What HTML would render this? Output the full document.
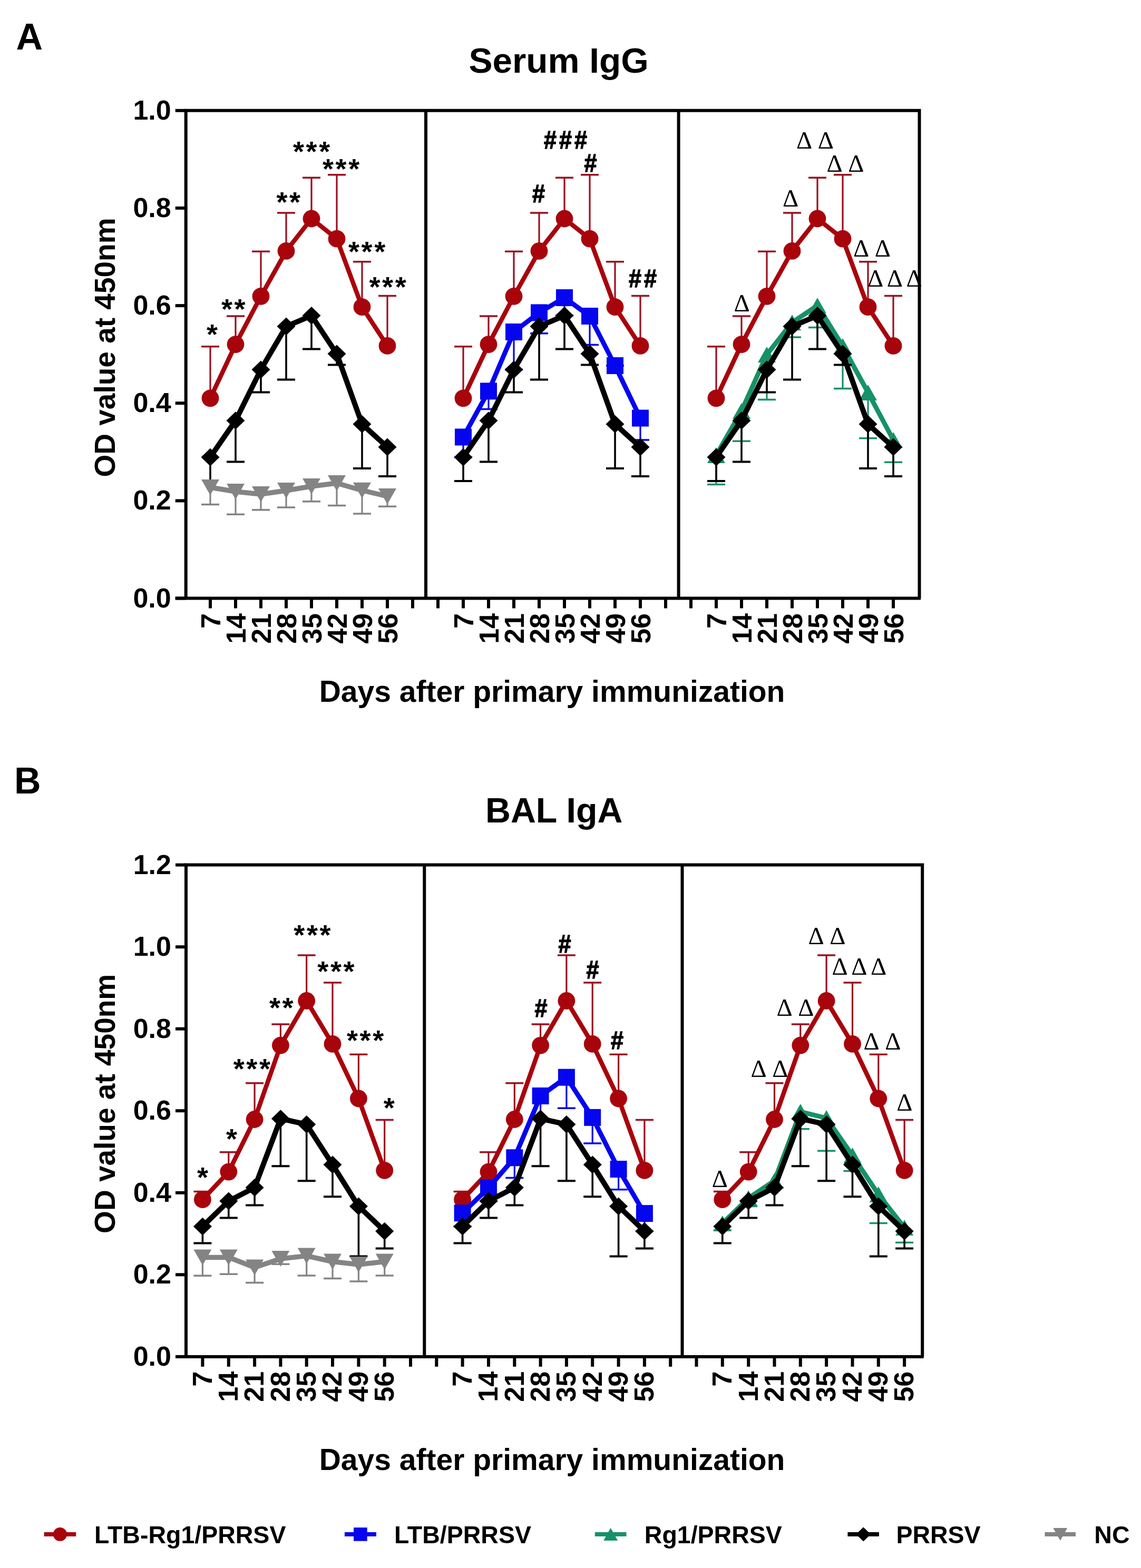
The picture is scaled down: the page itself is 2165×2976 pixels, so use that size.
<!DOCTYPE html>
<html><head><meta charset="utf-8"><title>Serum IgG and BAL IgA</title><style>
html,body{margin:0;padding:0;background:#fff;}
body{width:2165px;height:2976px;overflow:hidden;}
svg{display:block;}
text{font-family:"Liberation Sans",Arial,sans-serif;font-weight:bold;fill:#000;}
.tl{font-size:52px;}
.pl{font-size:70px;}
.tt{font-size:67.5px;}
.yt{font-size:55px;}
.xt{font-size:57px;}
.lg{font-size:46.5px;}
.st{font-size:54px;letter-spacing:3.6px;}
.hs{font-size:48px;stroke:#000;stroke-width:1.4px;letter-spacing:5.5px;}
.dl{font-family:"Liberation Serif","Times New Roman",serif;font-weight:normal;font-size:47px;word-spacing:4px;}
</style></head><body>
<svg width="2165" height="2976" viewBox="0 0 2165 2976">
<rect width="100%" height="100%" fill="#fff"/>
<text class="pl" x="30.5" y="94">A</text>
<text class="pl" x="27" y="1506">B</text>
<text class="tt" x="889.5" y="137.9">Serum IgG</text>
<text class="tt" x="921" y="1560.5" style="font-size:66.3px">BAL IgA</text>
<text class="yt" text-anchor="middle" transform="translate(218.3 659.5) rotate(-90)">OD value at 450nm</text>
<text class="yt" text-anchor="middle" transform="translate(218.3 2094.8) rotate(-90)">OD value at 450nm</text>
<text class="xt" x="605.7" y="1332.4">Days after primary immunization</text>
<text class="xt" x="605.7" y="2790">Days after primary immunization</text>
<path d="M352.7 1135.5V209.8H1744.5V1135.5" fill="none" stroke="#000" stroke-width="6" stroke-linejoin="miter"/>
<line x1="808" y1="209.8" x2="808" y2="1135.5" stroke="#000" stroke-width="6"/>
<line x1="1287.6" y1="209.8" x2="1287.6" y2="1135.5" stroke="#000" stroke-width="6"/>
<line x1="332.7" y1="1135.5" x2="1747" y2="1135.5" stroke="#000" stroke-width="6"/>
<line x1="332.7" y1="1135.5" x2="352.7" y2="1135.5" stroke="#000" stroke-width="6"/>
<text x="324.7" y="1152.5" class="tl" text-anchor="end">0.0</text>
<line x1="332.7" y1="950.4" x2="352.7" y2="950.4" stroke="#000" stroke-width="6"/>
<text x="324.7" y="967.4" class="tl" text-anchor="end">0.2</text>
<line x1="332.7" y1="765.2" x2="352.7" y2="765.2" stroke="#000" stroke-width="6"/>
<text x="324.7" y="782.2" class="tl" text-anchor="end">0.4</text>
<line x1="332.7" y1="580.1" x2="352.7" y2="580.1" stroke="#000" stroke-width="6"/>
<text x="324.7" y="597.1" class="tl" text-anchor="end">0.6</text>
<line x1="332.7" y1="394.9" x2="352.7" y2="394.9" stroke="#000" stroke-width="6"/>
<text x="324.7" y="411.9" class="tl" text-anchor="end">0.8</text>
<line x1="332.7" y1="209.8" x2="352.7" y2="209.8" stroke="#000" stroke-width="6"/>
<text x="324.7" y="226.8" class="tl" text-anchor="end">1.0</text>
<line x1="399" y1="1135.5" x2="399" y2="1154.5" stroke="#000" stroke-width="6"/>
<line x1="447" y1="1135.5" x2="447" y2="1154.5" stroke="#000" stroke-width="6"/>
<line x1="495" y1="1135.5" x2="495" y2="1154.5" stroke="#000" stroke-width="6"/>
<line x1="543" y1="1135.5" x2="543" y2="1154.5" stroke="#000" stroke-width="6"/>
<line x1="591" y1="1135.5" x2="591" y2="1154.5" stroke="#000" stroke-width="6"/>
<line x1="639" y1="1135.5" x2="639" y2="1154.5" stroke="#000" stroke-width="6"/>
<line x1="687" y1="1135.5" x2="687" y2="1154.5" stroke="#000" stroke-width="6"/>
<line x1="735" y1="1135.5" x2="735" y2="1154.5" stroke="#000" stroke-width="6"/>
<line x1="783" y1="1135.5" x2="783" y2="1154.5" stroke="#000" stroke-width="6"/>
<line x1="831" y1="1135.5" x2="831" y2="1154.5" stroke="#000" stroke-width="6"/>
<line x1="879" y1="1135.5" x2="879" y2="1154.5" stroke="#000" stroke-width="6"/>
<line x1="927" y1="1135.5" x2="927" y2="1154.5" stroke="#000" stroke-width="6"/>
<line x1="975" y1="1135.5" x2="975" y2="1154.5" stroke="#000" stroke-width="6"/>
<line x1="1023" y1="1135.5" x2="1023" y2="1154.5" stroke="#000" stroke-width="6"/>
<line x1="1071" y1="1135.5" x2="1071" y2="1154.5" stroke="#000" stroke-width="6"/>
<line x1="1119" y1="1135.5" x2="1119" y2="1154.5" stroke="#000" stroke-width="6"/>
<line x1="1167" y1="1135.5" x2="1167" y2="1154.5" stroke="#000" stroke-width="6"/>
<line x1="1215" y1="1135.5" x2="1215" y2="1154.5" stroke="#000" stroke-width="6"/>
<line x1="1263" y1="1135.5" x2="1263" y2="1154.5" stroke="#000" stroke-width="6"/>
<line x1="1311" y1="1135.5" x2="1311" y2="1154.5" stroke="#000" stroke-width="6"/>
<line x1="1359" y1="1135.5" x2="1359" y2="1154.5" stroke="#000" stroke-width="6"/>
<line x1="1407" y1="1135.5" x2="1407" y2="1154.5" stroke="#000" stroke-width="6"/>
<line x1="1455" y1="1135.5" x2="1455" y2="1154.5" stroke="#000" stroke-width="6"/>
<line x1="1503" y1="1135.5" x2="1503" y2="1154.5" stroke="#000" stroke-width="6"/>
<line x1="1551" y1="1135.5" x2="1551" y2="1154.5" stroke="#000" stroke-width="6"/>
<line x1="1599" y1="1135.5" x2="1599" y2="1154.5" stroke="#000" stroke-width="6"/>
<line x1="1647" y1="1135.5" x2="1647" y2="1154.5" stroke="#000" stroke-width="6"/>
<line x1="1695" y1="1135.5" x2="1695" y2="1154.5" stroke="#000" stroke-width="6"/>
<text class="tl" text-anchor="end" transform="translate(417.5 1164) rotate(-90)">7</text>
<text class="tl" text-anchor="end" transform="translate(465.5 1164) rotate(-90)">14</text>
<text class="tl" text-anchor="end" transform="translate(513.5 1164) rotate(-90)">21</text>
<text class="tl" text-anchor="end" transform="translate(561.5 1164) rotate(-90)">28</text>
<text class="tl" text-anchor="end" transform="translate(609.5 1164) rotate(-90)">35</text>
<text class="tl" text-anchor="end" transform="translate(657.5 1164) rotate(-90)">42</text>
<text class="tl" text-anchor="end" transform="translate(705.5 1164) rotate(-90)">49</text>
<text class="tl" text-anchor="end" transform="translate(753.5 1164) rotate(-90)">56</text>
<text class="tl" text-anchor="end" transform="translate(897.5 1164) rotate(-90)">7</text>
<text class="tl" text-anchor="end" transform="translate(945.5 1164) rotate(-90)">14</text>
<text class="tl" text-anchor="end" transform="translate(993.5 1164) rotate(-90)">21</text>
<text class="tl" text-anchor="end" transform="translate(1041.5 1164) rotate(-90)">28</text>
<text class="tl" text-anchor="end" transform="translate(1089.5 1164) rotate(-90)">35</text>
<text class="tl" text-anchor="end" transform="translate(1137.5 1164) rotate(-90)">42</text>
<text class="tl" text-anchor="end" transform="translate(1185.5 1164) rotate(-90)">49</text>
<text class="tl" text-anchor="end" transform="translate(1233.5 1164) rotate(-90)">56</text>
<text class="tl" text-anchor="end" transform="translate(1377.5 1164) rotate(-90)">7</text>
<text class="tl" text-anchor="end" transform="translate(1425.5 1164) rotate(-90)">14</text>
<text class="tl" text-anchor="end" transform="translate(1473.5 1164) rotate(-90)">21</text>
<text class="tl" text-anchor="end" transform="translate(1521.5 1164) rotate(-90)">28</text>
<text class="tl" text-anchor="end" transform="translate(1569.5 1164) rotate(-90)">35</text>
<text class="tl" text-anchor="end" transform="translate(1617.5 1164) rotate(-90)">42</text>
<text class="tl" text-anchor="end" transform="translate(1665.5 1164) rotate(-90)">49</text>
<text class="tl" text-anchor="end" transform="translate(1713.5 1164) rotate(-90)">56</text>
<path d="M353 2574.9V1641.6H1750.2V2574.9" fill="none" stroke="#000" stroke-width="6" stroke-linejoin="miter"/>
<line x1="805.3" y1="1641.6" x2="805.3" y2="2574.9" stroke="#000" stroke-width="6"/>
<line x1="1294.5" y1="1641.6" x2="1294.5" y2="2574.9" stroke="#000" stroke-width="6"/>
<line x1="333" y1="2574.9" x2="1752.7" y2="2574.9" stroke="#000" stroke-width="6"/>
<line x1="333" y1="2574.9" x2="353" y2="2574.9" stroke="#000" stroke-width="6"/>
<text x="325" y="2591.9" class="tl" text-anchor="end">0.0</text>
<line x1="333" y1="2419.3" x2="353" y2="2419.3" stroke="#000" stroke-width="6"/>
<text x="325" y="2436.3" class="tl" text-anchor="end">0.2</text>
<line x1="333" y1="2263.8" x2="353" y2="2263.8" stroke="#000" stroke-width="6"/>
<text x="325" y="2280.8" class="tl" text-anchor="end">0.4</text>
<line x1="333" y1="2108.2" x2="353" y2="2108.2" stroke="#000" stroke-width="6"/>
<text x="325" y="2125.2" class="tl" text-anchor="end">0.6</text>
<line x1="333" y1="1952.7" x2="353" y2="1952.7" stroke="#000" stroke-width="6"/>
<text x="325" y="1969.7" class="tl" text-anchor="end">0.8</text>
<line x1="333" y1="1797.2" x2="353" y2="1797.2" stroke="#000" stroke-width="6"/>
<text x="325" y="1814.2" class="tl" text-anchor="end">1.0</text>
<line x1="333" y1="1641.6" x2="353" y2="1641.6" stroke="#000" stroke-width="6"/>
<text x="325" y="1658.6" class="tl" text-anchor="end">1.2</text>
<line x1="384.4" y1="2574.9" x2="384.4" y2="2593.9" stroke="#000" stroke-width="6"/>
<line x1="433.8" y1="2574.9" x2="433.8" y2="2593.9" stroke="#000" stroke-width="6"/>
<line x1="483.1" y1="2574.9" x2="483.1" y2="2593.9" stroke="#000" stroke-width="6"/>
<line x1="532.4" y1="2574.9" x2="532.4" y2="2593.9" stroke="#000" stroke-width="6"/>
<line x1="581.7" y1="2574.9" x2="581.7" y2="2593.9" stroke="#000" stroke-width="6"/>
<line x1="631" y1="2574.9" x2="631" y2="2593.9" stroke="#000" stroke-width="6"/>
<line x1="680.4" y1="2574.9" x2="680.4" y2="2593.9" stroke="#000" stroke-width="6"/>
<line x1="729.7" y1="2574.9" x2="729.7" y2="2593.9" stroke="#000" stroke-width="6"/>
<line x1="779" y1="2574.9" x2="779" y2="2593.9" stroke="#000" stroke-width="6"/>
<line x1="828.3" y1="2574.9" x2="828.3" y2="2593.9" stroke="#000" stroke-width="6"/>
<line x1="877.6" y1="2574.9" x2="877.6" y2="2593.9" stroke="#000" stroke-width="6"/>
<line x1="927" y1="2574.9" x2="927" y2="2593.9" stroke="#000" stroke-width="6"/>
<line x1="976.3" y1="2574.9" x2="976.3" y2="2593.9" stroke="#000" stroke-width="6"/>
<line x1="1025.6" y1="2574.9" x2="1025.6" y2="2593.9" stroke="#000" stroke-width="6"/>
<line x1="1074.9" y1="2574.9" x2="1074.9" y2="2593.9" stroke="#000" stroke-width="6"/>
<line x1="1124.2" y1="2574.9" x2="1124.2" y2="2593.9" stroke="#000" stroke-width="6"/>
<line x1="1173.6" y1="2574.9" x2="1173.6" y2="2593.9" stroke="#000" stroke-width="6"/>
<line x1="1222.9" y1="2574.9" x2="1222.9" y2="2593.9" stroke="#000" stroke-width="6"/>
<line x1="1272.2" y1="2574.9" x2="1272.2" y2="2593.9" stroke="#000" stroke-width="6"/>
<line x1="1321.5" y1="2574.9" x2="1321.5" y2="2593.9" stroke="#000" stroke-width="6"/>
<line x1="1370.8" y1="2574.9" x2="1370.8" y2="2593.9" stroke="#000" stroke-width="6"/>
<line x1="1420.2" y1="2574.9" x2="1420.2" y2="2593.9" stroke="#000" stroke-width="6"/>
<line x1="1469.5" y1="2574.9" x2="1469.5" y2="2593.9" stroke="#000" stroke-width="6"/>
<line x1="1518.8" y1="2574.9" x2="1518.8" y2="2593.9" stroke="#000" stroke-width="6"/>
<line x1="1568.1" y1="2574.9" x2="1568.1" y2="2593.9" stroke="#000" stroke-width="6"/>
<line x1="1617.5" y1="2574.9" x2="1617.5" y2="2593.9" stroke="#000" stroke-width="6"/>
<line x1="1666.8" y1="2574.9" x2="1666.8" y2="2593.9" stroke="#000" stroke-width="6"/>
<line x1="1716.1" y1="2574.9" x2="1716.1" y2="2593.9" stroke="#000" stroke-width="6"/>
<text class="tl" text-anchor="end" transform="translate(401.8 2602.9) rotate(-90)">7</text>
<text class="tl" text-anchor="end" transform="translate(451.1 2602.9) rotate(-90)">14</text>
<text class="tl" text-anchor="end" transform="translate(500.4 2602.9) rotate(-90)">21</text>
<text class="tl" text-anchor="end" transform="translate(549.7 2602.9) rotate(-90)">28</text>
<text class="tl" text-anchor="end" transform="translate(599 2602.9) rotate(-90)">35</text>
<text class="tl" text-anchor="end" transform="translate(648.3 2602.9) rotate(-90)">42</text>
<text class="tl" text-anchor="end" transform="translate(697.7 2602.9) rotate(-90)">49</text>
<text class="tl" text-anchor="end" transform="translate(747 2602.9) rotate(-90)">56</text>
<text class="tl" text-anchor="end" transform="translate(894.9 2602.9) rotate(-90)">7</text>
<text class="tl" text-anchor="end" transform="translate(944.3 2602.9) rotate(-90)">14</text>
<text class="tl" text-anchor="end" transform="translate(993.6 2602.9) rotate(-90)">21</text>
<text class="tl" text-anchor="end" transform="translate(1042.9 2602.9) rotate(-90)">28</text>
<text class="tl" text-anchor="end" transform="translate(1092.2 2602.9) rotate(-90)">35</text>
<text class="tl" text-anchor="end" transform="translate(1141.5 2602.9) rotate(-90)">42</text>
<text class="tl" text-anchor="end" transform="translate(1190.9 2602.9) rotate(-90)">49</text>
<text class="tl" text-anchor="end" transform="translate(1240.2 2602.9) rotate(-90)">56</text>
<text class="tl" text-anchor="end" transform="translate(1388.1 2602.9) rotate(-90)">7</text>
<text class="tl" text-anchor="end" transform="translate(1437.5 2602.9) rotate(-90)">14</text>
<text class="tl" text-anchor="end" transform="translate(1486.8 2602.9) rotate(-90)">21</text>
<text class="tl" text-anchor="end" transform="translate(1536.1 2602.9) rotate(-90)">28</text>
<text class="tl" text-anchor="end" transform="translate(1585.4 2602.9) rotate(-90)">35</text>
<text class="tl" text-anchor="end" transform="translate(1634.8 2602.9) rotate(-90)">42</text>
<text class="tl" text-anchor="end" transform="translate(1684.1 2602.9) rotate(-90)">49</text>
<text class="tl" text-anchor="end" transform="translate(1733.4 2602.9) rotate(-90)">56</text>
<line x1="399" y1="755.9" x2="399" y2="657.7" stroke="#9A1020" stroke-width="3.2"/>
<line x1="382" y1="657.7" x2="416" y2="657.7" stroke="#9A1020" stroke-width="3.5"/>
<line x1="447" y1="653.6" x2="447" y2="600" stroke="#9A1020" stroke-width="3.2"/>
<line x1="430" y1="600" x2="464" y2="600" stroke="#9A1020" stroke-width="3.5"/>
<line x1="495" y1="562.3" x2="495" y2="477.2" stroke="#9A1020" stroke-width="3.2"/>
<line x1="478" y1="477.2" x2="512" y2="477.2" stroke="#9A1020" stroke-width="3.5"/>
<line x1="543" y1="476.4" x2="543" y2="404" stroke="#9A1020" stroke-width="3.2"/>
<line x1="526" y1="404" x2="560" y2="404" stroke="#9A1020" stroke-width="3.5"/>
<line x1="591" y1="415" x2="591" y2="337.3" stroke="#9A1020" stroke-width="3.2"/>
<line x1="574" y1="337.3" x2="608" y2="337.3" stroke="#9A1020" stroke-width="3.5"/>
<line x1="639" y1="453.2" x2="639" y2="331.8" stroke="#9A1020" stroke-width="3.2"/>
<line x1="622" y1="331.8" x2="656" y2="331.8" stroke="#9A1020" stroke-width="3.5"/>
<line x1="687" y1="582.7" x2="687" y2="496.8" stroke="#9A1020" stroke-width="3.2"/>
<line x1="670" y1="496.8" x2="704" y2="496.8" stroke="#9A1020" stroke-width="3.5"/>
<line x1="735" y1="656.4" x2="735" y2="561.5" stroke="#9A1020" stroke-width="3.2"/>
<line x1="718" y1="561.5" x2="752" y2="561.5" stroke="#9A1020" stroke-width="3.5"/>
<path d="M399 755.9L447 653.6L495 562.3L543 476.4L591 415L639 453.2L687 582.7L735 656.4" fill="none" stroke="#A8040C" stroke-width="8.5" stroke-linejoin="round"/>
<circle cx="399" cy="755.9" r="16.4" fill="#A8040C"/>
<circle cx="447" cy="653.6" r="16.4" fill="#A8040C"/>
<circle cx="495" cy="562.3" r="16.4" fill="#A8040C"/>
<circle cx="543" cy="476.4" r="16.4" fill="#A8040C"/>
<circle cx="591" cy="415" r="16.4" fill="#A8040C"/>
<circle cx="639" cy="453.2" r="16.4" fill="#A8040C"/>
<circle cx="687" cy="582.7" r="16.4" fill="#A8040C"/>
<circle cx="735" cy="656.4" r="16.4" fill="#A8040C"/>
<line x1="399" y1="867.7" x2="399" y2="918" stroke="#000000" stroke-width="3.6"/>
<line x1="447" y1="798.2" x2="447" y2="876.5" stroke="#000000" stroke-width="3.6"/>
<line x1="430" y1="876.5" x2="464" y2="876.5" stroke="#000000" stroke-width="4"/>
<line x1="495" y1="701.4" x2="495" y2="744.5" stroke="#000000" stroke-width="3.6"/>
<line x1="478" y1="744.5" x2="512" y2="744.5" stroke="#000000" stroke-width="4"/>
<line x1="543" y1="619.5" x2="543" y2="720.5" stroke="#000000" stroke-width="3.6"/>
<line x1="526" y1="720.5" x2="560" y2="720.5" stroke="#000000" stroke-width="4"/>
<line x1="591" y1="599.1" x2="591" y2="662.4" stroke="#000000" stroke-width="3.6"/>
<line x1="574" y1="662.4" x2="608" y2="662.4" stroke="#000000" stroke-width="4"/>
<line x1="639" y1="671.4" x2="639" y2="692.4" stroke="#000000" stroke-width="3.6"/>
<line x1="622" y1="692.4" x2="656" y2="692.4" stroke="#000000" stroke-width="4"/>
<line x1="687" y1="805" x2="687" y2="889" stroke="#000000" stroke-width="3.6"/>
<line x1="670" y1="889" x2="704" y2="889" stroke="#000000" stroke-width="4"/>
<line x1="735" y1="848.6" x2="735" y2="904" stroke="#000000" stroke-width="3.6"/>
<line x1="718" y1="904" x2="752" y2="904" stroke="#000000" stroke-width="4"/>
<path d="M399 867.7L447 798.2L495 701.4L543 619.5L591 599.1L639 671.4L687 805L735 848.6" fill="none" stroke="#000000" stroke-width="10" stroke-linejoin="round"/>
<path d="M399 850.7L416.5 867.7L399 884.7L381.5 867.7Z" fill="#000000"/>
<path d="M447 781.2L464.5 798.2L447 815.2L429.5 798.2Z" fill="#000000"/>
<path d="M495 684.4L512.5 701.4L495 718.4L477.5 701.4Z" fill="#000000"/>
<path d="M543 602.5L560.5 619.5L543 636.5L525.5 619.5Z" fill="#000000"/>
<path d="M591 582.1L608.5 599.1L591 616.1L573.5 599.1Z" fill="#000000"/>
<path d="M639 654.4L656.5 671.4L639 688.4L621.5 671.4Z" fill="#000000"/>
<path d="M687 788L704.5 805L687 822L669.5 805Z" fill="#000000"/>
<path d="M735 831.6L752.5 848.6L735 865.6L717.5 848.6Z" fill="#000000"/>
<line x1="399" y1="925" x2="399" y2="957.6" stroke="#848484" stroke-width="3.2"/>
<line x1="382" y1="957.6" x2="416" y2="957.6" stroke="#848484" stroke-width="3.5"/>
<line x1="447" y1="933" x2="447" y2="976.2" stroke="#848484" stroke-width="3.2"/>
<line x1="430" y1="976.2" x2="464" y2="976.2" stroke="#848484" stroke-width="3.5"/>
<line x1="495" y1="938" x2="495" y2="967.8" stroke="#848484" stroke-width="3.2"/>
<line x1="478" y1="967.8" x2="512" y2="967.8" stroke="#848484" stroke-width="3.5"/>
<line x1="543" y1="931" x2="543" y2="962.9" stroke="#848484" stroke-width="3.2"/>
<line x1="526" y1="962.9" x2="560" y2="962.9" stroke="#848484" stroke-width="3.5"/>
<line x1="591" y1="923" x2="591" y2="951.8" stroke="#848484" stroke-width="3.2"/>
<line x1="574" y1="951.8" x2="608" y2="951.8" stroke="#848484" stroke-width="3.5"/>
<line x1="639" y1="917" x2="639" y2="959.5" stroke="#848484" stroke-width="3.2"/>
<line x1="622" y1="959.5" x2="656" y2="959.5" stroke="#848484" stroke-width="3.5"/>
<line x1="687" y1="930.7" x2="687" y2="975" stroke="#848484" stroke-width="3.2"/>
<line x1="670" y1="975" x2="704" y2="975" stroke="#848484" stroke-width="3.5"/>
<line x1="735" y1="942" x2="735" y2="961.2" stroke="#848484" stroke-width="3.2"/>
<line x1="718" y1="961.2" x2="752" y2="961.2" stroke="#848484" stroke-width="3.5"/>
<path d="M399 925L447 933L495 938L543 931L591 923L639 917L687 930.7L735 942" fill="none" stroke="#848484" stroke-width="9.5" stroke-linejoin="round"/>
<path d="M382 910L416 910L399 940Z" fill="#848484"/>
<path d="M430 918L464 918L447 948Z" fill="#848484"/>
<path d="M478 923L512 923L495 953Z" fill="#848484"/>
<path d="M526 916L560 916L543 946Z" fill="#848484"/>
<path d="M574 908L608 908L591 938Z" fill="#848484"/>
<path d="M622 902L656 902L639 932Z" fill="#848484"/>
<path d="M670 915.7L704 915.7L687 945.7Z" fill="#848484"/>
<path d="M718 927L752 927L735 957Z" fill="#848484"/>
<line x1="879" y1="755.9" x2="879" y2="657.7" stroke="#9A1020" stroke-width="3.2"/>
<line x1="862" y1="657.7" x2="896" y2="657.7" stroke="#9A1020" stroke-width="3.5"/>
<line x1="927" y1="653.6" x2="927" y2="600" stroke="#9A1020" stroke-width="3.2"/>
<line x1="910" y1="600" x2="944" y2="600" stroke="#9A1020" stroke-width="3.5"/>
<line x1="975" y1="562.3" x2="975" y2="477.2" stroke="#9A1020" stroke-width="3.2"/>
<line x1="958" y1="477.2" x2="992" y2="477.2" stroke="#9A1020" stroke-width="3.5"/>
<line x1="1023" y1="476.4" x2="1023" y2="404" stroke="#9A1020" stroke-width="3.2"/>
<line x1="1006" y1="404" x2="1040" y2="404" stroke="#9A1020" stroke-width="3.5"/>
<line x1="1071" y1="415" x2="1071" y2="337.3" stroke="#9A1020" stroke-width="3.2"/>
<line x1="1054" y1="337.3" x2="1088" y2="337.3" stroke="#9A1020" stroke-width="3.5"/>
<line x1="1119" y1="453.2" x2="1119" y2="331.8" stroke="#9A1020" stroke-width="3.2"/>
<line x1="1102" y1="331.8" x2="1136" y2="331.8" stroke="#9A1020" stroke-width="3.5"/>
<line x1="1167" y1="582.7" x2="1167" y2="496.8" stroke="#9A1020" stroke-width="3.2"/>
<line x1="1150" y1="496.8" x2="1184" y2="496.8" stroke="#9A1020" stroke-width="3.5"/>
<line x1="1215" y1="656.4" x2="1215" y2="561.5" stroke="#9A1020" stroke-width="3.2"/>
<line x1="1198" y1="561.5" x2="1232" y2="561.5" stroke="#9A1020" stroke-width="3.5"/>
<path d="M879 755.9L927 653.6L975 562.3L1023 476.4L1071 415L1119 453.2L1167 582.7L1215 656.4" fill="none" stroke="#A8040C" stroke-width="8.5" stroke-linejoin="round"/>
<circle cx="879" cy="755.9" r="16.4" fill="#A8040C"/>
<circle cx="927" cy="653.6" r="16.4" fill="#A8040C"/>
<circle cx="975" cy="562.3" r="16.4" fill="#A8040C"/>
<circle cx="1023" cy="476.4" r="16.4" fill="#A8040C"/>
<circle cx="1071" cy="415" r="16.4" fill="#A8040C"/>
<circle cx="1119" cy="453.2" r="16.4" fill="#A8040C"/>
<circle cx="1167" cy="582.7" r="16.4" fill="#A8040C"/>
<circle cx="1215" cy="656.4" r="16.4" fill="#A8040C"/>
<line x1="879" y1="829.5" x2="879" y2="867.7" stroke="#0505F0" stroke-width="3.2"/>
<line x1="862" y1="867.7" x2="896" y2="867.7" stroke="#0505F0" stroke-width="3.5"/>
<line x1="927" y1="742.4" x2="927" y2="776.4" stroke="#0505F0" stroke-width="3.2"/>
<line x1="910" y1="776.4" x2="944" y2="776.4" stroke="#0505F0" stroke-width="3.5"/>
<line x1="975" y1="630" x2="975" y2="701.4" stroke="#0505F0" stroke-width="3.2"/>
<line x1="958" y1="701.4" x2="992" y2="701.4" stroke="#0505F0" stroke-width="3.5"/>
<line x1="1023" y1="593.4" x2="1023" y2="632.7" stroke="#0505F0" stroke-width="3.2"/>
<line x1="1006" y1="632.7" x2="1040" y2="632.7" stroke="#0505F0" stroke-width="3.5"/>
<line x1="1071" y1="565" x2="1071" y2="599.1" stroke="#0505F0" stroke-width="3.2"/>
<line x1="1054" y1="599.1" x2="1088" y2="599.1" stroke="#0505F0" stroke-width="3.5"/>
<line x1="1119" y1="600" x2="1119" y2="654.5" stroke="#0505F0" stroke-width="3.2"/>
<line x1="1102" y1="654.5" x2="1136" y2="654.5" stroke="#0505F0" stroke-width="3.5"/>
<line x1="1167" y1="694" x2="1167" y2="694" stroke="#0505F0" stroke-width="3.2"/>
<line x1="1150" y1="694" x2="1184" y2="694" stroke="#0505F0" stroke-width="3.5"/>
<line x1="1215" y1="793.6" x2="1215" y2="834.9" stroke="#0505F0" stroke-width="3.2"/>
<line x1="1198" y1="834.9" x2="1232" y2="834.9" stroke="#0505F0" stroke-width="3.5"/>
<path d="M879 829.5L927 742.4L975 630L1023 593.4L1071 565L1119 600L1167 694L1215 793.6" fill="none" stroke="#0505F0" stroke-width="9" stroke-linejoin="round"/>
<rect x="863" y="813.5" width="32" height="32" fill="#0505F0"/>
<rect x="911" y="726.4" width="32" height="32" fill="#0505F0"/>
<rect x="959" y="614" width="32" height="32" fill="#0505F0"/>
<rect x="1007" y="577.4" width="32" height="32" fill="#0505F0"/>
<rect x="1055" y="549" width="32" height="32" fill="#0505F0"/>
<rect x="1103" y="584" width="32" height="32" fill="#0505F0"/>
<rect x="1151" y="678" width="32" height="32" fill="#0505F0"/>
<rect x="1199" y="777.6" width="32" height="32" fill="#0505F0"/>
<line x1="879" y1="867.7" x2="879" y2="913" stroke="#000000" stroke-width="3.6"/>
<line x1="862" y1="913" x2="896" y2="913" stroke="#000000" stroke-width="4"/>
<line x1="927" y1="798.2" x2="927" y2="876.5" stroke="#000000" stroke-width="3.6"/>
<line x1="910" y1="876.5" x2="944" y2="876.5" stroke="#000000" stroke-width="4"/>
<line x1="975" y1="701.4" x2="975" y2="744.5" stroke="#000000" stroke-width="3.6"/>
<line x1="958" y1="744.5" x2="992" y2="744.5" stroke="#000000" stroke-width="4"/>
<line x1="1023" y1="619.5" x2="1023" y2="720.5" stroke="#000000" stroke-width="3.6"/>
<line x1="1006" y1="720.5" x2="1040" y2="720.5" stroke="#000000" stroke-width="4"/>
<line x1="1071" y1="599.1" x2="1071" y2="662.4" stroke="#000000" stroke-width="3.6"/>
<line x1="1054" y1="662.4" x2="1088" y2="662.4" stroke="#000000" stroke-width="4"/>
<line x1="1119" y1="671.4" x2="1119" y2="692.4" stroke="#000000" stroke-width="3.6"/>
<line x1="1102" y1="692.4" x2="1136" y2="692.4" stroke="#000000" stroke-width="4"/>
<line x1="1167" y1="805" x2="1167" y2="889" stroke="#000000" stroke-width="3.6"/>
<line x1="1150" y1="889" x2="1184" y2="889" stroke="#000000" stroke-width="4"/>
<line x1="1215" y1="848.6" x2="1215" y2="904" stroke="#000000" stroke-width="3.6"/>
<line x1="1198" y1="904" x2="1232" y2="904" stroke="#000000" stroke-width="4"/>
<path d="M879 867.7L927 798.2L975 701.4L1023 619.5L1071 599.1L1119 671.4L1167 805L1215 848.6" fill="none" stroke="#000000" stroke-width="10" stroke-linejoin="round"/>
<path d="M879 850.7L896.5 867.7L879 884.7L861.5 867.7Z" fill="#000000"/>
<path d="M927 781.2L944.5 798.2L927 815.2L909.5 798.2Z" fill="#000000"/>
<path d="M975 684.4L992.5 701.4L975 718.4L957.5 701.4Z" fill="#000000"/>
<path d="M1023 602.5L1040.5 619.5L1023 636.5L1005.5 619.5Z" fill="#000000"/>
<path d="M1071 582.1L1088.5 599.1L1071 616.1L1053.5 599.1Z" fill="#000000"/>
<path d="M1119 654.4L1136.5 671.4L1119 688.4L1101.5 671.4Z" fill="#000000"/>
<path d="M1167 788L1184.5 805L1167 822L1149.5 805Z" fill="#000000"/>
<path d="M1215 831.6L1232.5 848.6L1215 865.6L1197.5 848.6Z" fill="#000000"/>
<line x1="1359" y1="755.9" x2="1359" y2="657.7" stroke="#9A1020" stroke-width="3.2"/>
<line x1="1342" y1="657.7" x2="1376" y2="657.7" stroke="#9A1020" stroke-width="3.5"/>
<line x1="1407" y1="653.6" x2="1407" y2="600" stroke="#9A1020" stroke-width="3.2"/>
<line x1="1390" y1="600" x2="1424" y2="600" stroke="#9A1020" stroke-width="3.5"/>
<line x1="1455" y1="562.3" x2="1455" y2="477.2" stroke="#9A1020" stroke-width="3.2"/>
<line x1="1438" y1="477.2" x2="1472" y2="477.2" stroke="#9A1020" stroke-width="3.5"/>
<line x1="1503" y1="476.4" x2="1503" y2="404" stroke="#9A1020" stroke-width="3.2"/>
<line x1="1486" y1="404" x2="1520" y2="404" stroke="#9A1020" stroke-width="3.5"/>
<line x1="1551" y1="415" x2="1551" y2="337.3" stroke="#9A1020" stroke-width="3.2"/>
<line x1="1534" y1="337.3" x2="1568" y2="337.3" stroke="#9A1020" stroke-width="3.5"/>
<line x1="1599" y1="453.2" x2="1599" y2="331.8" stroke="#9A1020" stroke-width="3.2"/>
<line x1="1582" y1="331.8" x2="1616" y2="331.8" stroke="#9A1020" stroke-width="3.5"/>
<line x1="1647" y1="582.7" x2="1647" y2="496.8" stroke="#9A1020" stroke-width="3.2"/>
<line x1="1630" y1="496.8" x2="1664" y2="496.8" stroke="#9A1020" stroke-width="3.5"/>
<line x1="1695" y1="656.4" x2="1695" y2="561.5" stroke="#9A1020" stroke-width="3.2"/>
<line x1="1678" y1="561.5" x2="1712" y2="561.5" stroke="#9A1020" stroke-width="3.5"/>
<path d="M1359 755.9L1407 653.6L1455 562.3L1503 476.4L1551 415L1599 453.2L1647 582.7L1695 656.4" fill="none" stroke="#A8040C" stroke-width="8.5" stroke-linejoin="round"/>
<circle cx="1359" cy="755.9" r="16.4" fill="#A8040C"/>
<circle cx="1407" cy="653.6" r="16.4" fill="#A8040C"/>
<circle cx="1455" cy="562.3" r="16.4" fill="#A8040C"/>
<circle cx="1503" cy="476.4" r="16.4" fill="#A8040C"/>
<circle cx="1551" cy="415" r="16.4" fill="#A8040C"/>
<circle cx="1599" cy="453.2" r="16.4" fill="#A8040C"/>
<circle cx="1647" cy="582.7" r="16.4" fill="#A8040C"/>
<circle cx="1695" cy="656.4" r="16.4" fill="#A8040C"/>
<line x1="1359" y1="864" x2="1359" y2="919.5" stroke="#17916A" stroke-width="3.2"/>
<line x1="1342" y1="919.5" x2="1376" y2="919.5" stroke="#17916A" stroke-width="3.5"/>
<line x1="1407" y1="780" x2="1407" y2="837.2" stroke="#17916A" stroke-width="3.2"/>
<line x1="1390" y1="837.2" x2="1424" y2="837.2" stroke="#17916A" stroke-width="3.5"/>
<line x1="1455" y1="673" x2="1455" y2="758.6" stroke="#17916A" stroke-width="3.2"/>
<line x1="1438" y1="758.6" x2="1472" y2="758.6" stroke="#17916A" stroke-width="3.5"/>
<line x1="1503" y1="612" x2="1503" y2="640" stroke="#17916A" stroke-width="3.2"/>
<line x1="1486" y1="640" x2="1520" y2="640" stroke="#17916A" stroke-width="3.5"/>
<line x1="1551" y1="580" x2="1551" y2="621.5" stroke="#17916A" stroke-width="3.2"/>
<line x1="1534" y1="621.5" x2="1568" y2="621.5" stroke="#17916A" stroke-width="3.5"/>
<line x1="1599" y1="657" x2="1599" y2="737.6" stroke="#17916A" stroke-width="3.2"/>
<line x1="1582" y1="737.6" x2="1616" y2="737.6" stroke="#17916A" stroke-width="3.5"/>
<line x1="1647" y1="745" x2="1647" y2="831.7" stroke="#17916A" stroke-width="3.2"/>
<line x1="1630" y1="831.7" x2="1664" y2="831.7" stroke="#17916A" stroke-width="3.5"/>
<line x1="1695" y1="835" x2="1695" y2="877.3" stroke="#17916A" stroke-width="3.2"/>
<line x1="1678" y1="877.3" x2="1712" y2="877.3" stroke="#17916A" stroke-width="3.5"/>
<path d="M1359 864L1407 780L1455 673L1503 612L1551 580L1599 657L1647 745L1695 835" fill="none" stroke="#17916A" stroke-width="9" stroke-linejoin="round"/>
<path d="M1359 849L1376 879L1342 879Z" fill="#17916A"/>
<path d="M1407 765L1424 795L1390 795Z" fill="#17916A"/>
<path d="M1455 658L1472 688L1438 688Z" fill="#17916A"/>
<path d="M1503 597L1520 627L1486 627Z" fill="#17916A"/>
<path d="M1551 565L1568 595L1534 595Z" fill="#17916A"/>
<path d="M1599 642L1616 672L1582 672Z" fill="#17916A"/>
<path d="M1647 730L1664 760L1630 760Z" fill="#17916A"/>
<path d="M1695 820L1712 850L1678 850Z" fill="#17916A"/>
<line x1="1359" y1="867.7" x2="1359" y2="913" stroke="#000000" stroke-width="3.6"/>
<line x1="1342" y1="913" x2="1376" y2="913" stroke="#000000" stroke-width="4"/>
<line x1="1407" y1="798.2" x2="1407" y2="876.5" stroke="#000000" stroke-width="3.6"/>
<line x1="1390" y1="876.5" x2="1424" y2="876.5" stroke="#000000" stroke-width="4"/>
<line x1="1455" y1="701.4" x2="1455" y2="744.5" stroke="#000000" stroke-width="3.6"/>
<line x1="1438" y1="744.5" x2="1472" y2="744.5" stroke="#000000" stroke-width="4"/>
<line x1="1503" y1="619.5" x2="1503" y2="720.5" stroke="#000000" stroke-width="3.6"/>
<line x1="1486" y1="720.5" x2="1520" y2="720.5" stroke="#000000" stroke-width="4"/>
<line x1="1551" y1="599.1" x2="1551" y2="662.4" stroke="#000000" stroke-width="3.6"/>
<line x1="1534" y1="662.4" x2="1568" y2="662.4" stroke="#000000" stroke-width="4"/>
<line x1="1599" y1="671.4" x2="1599" y2="692.4" stroke="#000000" stroke-width="3.6"/>
<line x1="1582" y1="692.4" x2="1616" y2="692.4" stroke="#000000" stroke-width="4"/>
<line x1="1647" y1="805" x2="1647" y2="889" stroke="#000000" stroke-width="3.6"/>
<line x1="1630" y1="889" x2="1664" y2="889" stroke="#000000" stroke-width="4"/>
<line x1="1695" y1="848.6" x2="1695" y2="904" stroke="#000000" stroke-width="3.6"/>
<line x1="1678" y1="904" x2="1712" y2="904" stroke="#000000" stroke-width="4"/>
<path d="M1359 867.7L1407 798.2L1455 701.4L1503 619.5L1551 599.1L1599 671.4L1647 805L1695 848.6" fill="none" stroke="#000000" stroke-width="10" stroke-linejoin="round"/>
<path d="M1359 850.7L1376.5 867.7L1359 884.7L1341.5 867.7Z" fill="#000000"/>
<path d="M1407 781.2L1424.5 798.2L1407 815.2L1389.5 798.2Z" fill="#000000"/>
<path d="M1455 684.4L1472.5 701.4L1455 718.4L1437.5 701.4Z" fill="#000000"/>
<path d="M1503 602.5L1520.5 619.5L1503 636.5L1485.5 619.5Z" fill="#000000"/>
<path d="M1551 582.1L1568.5 599.1L1551 616.1L1533.5 599.1Z" fill="#000000"/>
<path d="M1599 654.4L1616.5 671.4L1599 688.4L1581.5 671.4Z" fill="#000000"/>
<path d="M1647 788L1664.5 805L1647 822L1629.5 805Z" fill="#000000"/>
<path d="M1695 831.6L1712.5 848.6L1695 865.6L1677.5 848.6Z" fill="#000000"/>
<line x1="384.4" y1="2276.7" x2="384.4" y2="2261.4" stroke="#9A1020" stroke-width="3.2"/>
<line x1="367.4" y1="2261.4" x2="401.4" y2="2261.4" stroke="#9A1020" stroke-width="3.5"/>
<line x1="433.8" y1="2224.1" x2="433.8" y2="2186.7" stroke="#9A1020" stroke-width="3.2"/>
<line x1="416.8" y1="2186.7" x2="450.8" y2="2186.7" stroke="#9A1020" stroke-width="3.5"/>
<line x1="483.1" y1="2124.5" x2="483.1" y2="2055.8" stroke="#9A1020" stroke-width="3.2"/>
<line x1="466.1" y1="2055.8" x2="500.1" y2="2055.8" stroke="#9A1020" stroke-width="3.5"/>
<line x1="532.4" y1="1984.1" x2="532.4" y2="1944" stroke="#9A1020" stroke-width="3.2"/>
<line x1="515.4" y1="1944" x2="549.4" y2="1944" stroke="#9A1020" stroke-width="3.5"/>
<line x1="581.7" y1="1899.5" x2="581.7" y2="1813.1" stroke="#9A1020" stroke-width="3.2"/>
<line x1="564.7" y1="1813.1" x2="598.7" y2="1813.1" stroke="#9A1020" stroke-width="3.5"/>
<line x1="631" y1="1981.4" x2="631" y2="1864.9" stroke="#9A1020" stroke-width="3.2"/>
<line x1="614" y1="1864.9" x2="648" y2="1864.9" stroke="#9A1020" stroke-width="3.5"/>
<line x1="680.4" y1="2085" x2="680.4" y2="2001.3" stroke="#9A1020" stroke-width="3.2"/>
<line x1="663.4" y1="2001.3" x2="697.4" y2="2001.3" stroke="#9A1020" stroke-width="3.5"/>
<line x1="729.7" y1="2221.4" x2="729.7" y2="2125.4" stroke="#9A1020" stroke-width="3.2"/>
<line x1="712.7" y1="2125.4" x2="746.7" y2="2125.4" stroke="#9A1020" stroke-width="3.5"/>
<path d="M384.4 2276.7L433.8 2224.1L483.1 2124.5L532.4 1984.1L581.7 1899.5L631 1981.4L680.4 2085L729.7 2221.4" fill="none" stroke="#A8040C" stroke-width="8.5" stroke-linejoin="round"/>
<circle cx="384.4" cy="2276.7" r="16.4" fill="#A8040C"/>
<circle cx="433.8" cy="2224.1" r="16.4" fill="#A8040C"/>
<circle cx="483.1" cy="2124.5" r="16.4" fill="#A8040C"/>
<circle cx="532.4" cy="1984.1" r="16.4" fill="#A8040C"/>
<circle cx="581.7" cy="1899.5" r="16.4" fill="#A8040C"/>
<circle cx="631" cy="1981.4" r="16.4" fill="#A8040C"/>
<circle cx="680.4" cy="2085" r="16.4" fill="#A8040C"/>
<circle cx="729.7" cy="2221.4" r="16.4" fill="#A8040C"/>
<line x1="384.4" y1="2327.7" x2="384.4" y2="2359.6" stroke="#000000" stroke-width="3.6"/>
<line x1="367.4" y1="2359.6" x2="401.4" y2="2359.6" stroke="#000000" stroke-width="4"/>
<line x1="433.8" y1="2279.5" x2="433.8" y2="2311.4" stroke="#000000" stroke-width="3.6"/>
<line x1="416.8" y1="2311.4" x2="450.8" y2="2311.4" stroke="#000000" stroke-width="4"/>
<line x1="483.1" y1="2254.1" x2="483.1" y2="2287.6" stroke="#000000" stroke-width="3.6"/>
<line x1="466.1" y1="2287.6" x2="500.1" y2="2287.6" stroke="#000000" stroke-width="4"/>
<line x1="532.4" y1="2123.2" x2="532.4" y2="2213.2" stroke="#000000" stroke-width="3.6"/>
<line x1="515.4" y1="2213.2" x2="549.4" y2="2213.2" stroke="#000000" stroke-width="4"/>
<line x1="581.7" y1="2134.1" x2="581.7" y2="2241.3" stroke="#000000" stroke-width="3.6"/>
<line x1="564.7" y1="2241.3" x2="598.7" y2="2241.3" stroke="#000000" stroke-width="4"/>
<line x1="631" y1="2210.5" x2="631" y2="2271.3" stroke="#000000" stroke-width="3.6"/>
<line x1="614" y1="2271.3" x2="648" y2="2271.3" stroke="#000000" stroke-width="4"/>
<line x1="680.4" y1="2289.5" x2="680.4" y2="2384.5" stroke="#000000" stroke-width="3.6"/>
<line x1="663.4" y1="2384.5" x2="697.4" y2="2384.5" stroke="#000000" stroke-width="4"/>
<line x1="729.7" y1="2336.7" x2="729.7" y2="2369.5" stroke="#000000" stroke-width="3.6"/>
<line x1="712.7" y1="2369.5" x2="746.7" y2="2369.5" stroke="#000000" stroke-width="4"/>
<path d="M384.4 2327.7L433.8 2279.5L483.1 2254.1L532.4 2123.2L581.7 2134.1L631 2210.5L680.4 2289.5L729.7 2336.7" fill="none" stroke="#000000" stroke-width="10" stroke-linejoin="round"/>
<path d="M384.4 2310.7L401.9 2327.7L384.4 2344.7L366.9 2327.7Z" fill="#000000"/>
<path d="M433.8 2262.5L451.3 2279.5L433.8 2296.5L416.3 2279.5Z" fill="#000000"/>
<path d="M483.1 2237.1L500.6 2254.1L483.1 2271.1L465.6 2254.1Z" fill="#000000"/>
<path d="M532.4 2106.2L549.9 2123.2L532.4 2140.2L514.9 2123.2Z" fill="#000000"/>
<path d="M581.7 2117.1L599.2 2134.1L581.7 2151.1L564.2 2134.1Z" fill="#000000"/>
<path d="M631 2193.5L648.5 2210.5L631 2227.5L613.5 2210.5Z" fill="#000000"/>
<path d="M680.4 2272.5L697.9 2289.5L680.4 2306.5L662.9 2289.5Z" fill="#000000"/>
<path d="M729.7 2319.7L747.2 2336.7L729.7 2353.7L712.2 2336.7Z" fill="#000000"/>
<line x1="384.4" y1="2386.4" x2="384.4" y2="2421.3" stroke="#848484" stroke-width="3.2"/>
<line x1="367.4" y1="2421.3" x2="401.4" y2="2421.3" stroke="#848484" stroke-width="3.5"/>
<line x1="433.8" y1="2386.4" x2="433.8" y2="2418.3" stroke="#848484" stroke-width="3.2"/>
<line x1="416.8" y1="2418.3" x2="450.8" y2="2418.3" stroke="#848484" stroke-width="3.5"/>
<line x1="483.1" y1="2405.5" x2="483.1" y2="2434.6" stroke="#848484" stroke-width="3.2"/>
<line x1="466.1" y1="2434.6" x2="500.1" y2="2434.6" stroke="#848484" stroke-width="3.5"/>
<line x1="532.4" y1="2389" x2="532.4" y2="2399.2" stroke="#848484" stroke-width="3.2"/>
<line x1="515.4" y1="2399.2" x2="549.4" y2="2399.2" stroke="#848484" stroke-width="3.5"/>
<line x1="581.7" y1="2383.6" x2="581.7" y2="2421" stroke="#848484" stroke-width="3.2"/>
<line x1="564.7" y1="2421" x2="598.7" y2="2421" stroke="#848484" stroke-width="3.5"/>
<line x1="631" y1="2394.5" x2="631" y2="2426.5" stroke="#848484" stroke-width="3.2"/>
<line x1="614" y1="2426.5" x2="648" y2="2426.5" stroke="#848484" stroke-width="3.5"/>
<line x1="680.4" y1="2400" x2="680.4" y2="2432" stroke="#848484" stroke-width="3.2"/>
<line x1="663.4" y1="2432" x2="697.4" y2="2432" stroke="#848484" stroke-width="3.5"/>
<line x1="729.7" y1="2394.5" x2="729.7" y2="2421" stroke="#848484" stroke-width="3.2"/>
<line x1="712.7" y1="2421" x2="746.7" y2="2421" stroke="#848484" stroke-width="3.5"/>
<path d="M384.4 2386.4L433.8 2386.4L483.1 2405.5L532.4 2389L581.7 2383.6L631 2394.5L680.4 2400L729.7 2394.5" fill="none" stroke="#848484" stroke-width="9.5" stroke-linejoin="round"/>
<path d="M367.4 2371.4L401.4 2371.4L384.4 2401.4Z" fill="#848484"/>
<path d="M416.8 2371.4L450.8 2371.4L433.8 2401.4Z" fill="#848484"/>
<path d="M466.1 2390.5L500.1 2390.5L483.1 2420.5Z" fill="#848484"/>
<path d="M515.4 2374L549.4 2374L532.4 2404Z" fill="#848484"/>
<path d="M564.7 2368.6L598.7 2368.6L581.7 2398.6Z" fill="#848484"/>
<path d="M614 2379.5L648 2379.5L631 2409.5Z" fill="#848484"/>
<path d="M663.4 2385L697.4 2385L680.4 2415Z" fill="#848484"/>
<path d="M712.7 2379.5L746.7 2379.5L729.7 2409.5Z" fill="#848484"/>
<line x1="877.6" y1="2276.7" x2="877.6" y2="2261.4" stroke="#9A1020" stroke-width="3.2"/>
<line x1="860.6" y1="2261.4" x2="894.6" y2="2261.4" stroke="#9A1020" stroke-width="3.5"/>
<line x1="927" y1="2224.1" x2="927" y2="2186.7" stroke="#9A1020" stroke-width="3.2"/>
<line x1="910" y1="2186.7" x2="944" y2="2186.7" stroke="#9A1020" stroke-width="3.5"/>
<line x1="976.3" y1="2124.5" x2="976.3" y2="2055.8" stroke="#9A1020" stroke-width="3.2"/>
<line x1="959.3" y1="2055.8" x2="993.3" y2="2055.8" stroke="#9A1020" stroke-width="3.5"/>
<line x1="1025.6" y1="1984.1" x2="1025.6" y2="1944" stroke="#9A1020" stroke-width="3.2"/>
<line x1="1008.6" y1="1944" x2="1042.6" y2="1944" stroke="#9A1020" stroke-width="3.5"/>
<line x1="1074.9" y1="1899.5" x2="1074.9" y2="1813.1" stroke="#9A1020" stroke-width="3.2"/>
<line x1="1057.9" y1="1813.1" x2="1091.9" y2="1813.1" stroke="#9A1020" stroke-width="3.5"/>
<line x1="1124.2" y1="1981.4" x2="1124.2" y2="1864.9" stroke="#9A1020" stroke-width="3.2"/>
<line x1="1107.2" y1="1864.9" x2="1141.2" y2="1864.9" stroke="#9A1020" stroke-width="3.5"/>
<line x1="1173.6" y1="2085" x2="1173.6" y2="2001.3" stroke="#9A1020" stroke-width="3.2"/>
<line x1="1156.6" y1="2001.3" x2="1190.6" y2="2001.3" stroke="#9A1020" stroke-width="3.5"/>
<line x1="1222.9" y1="2221.4" x2="1222.9" y2="2125.4" stroke="#9A1020" stroke-width="3.2"/>
<line x1="1205.9" y1="2125.4" x2="1239.9" y2="2125.4" stroke="#9A1020" stroke-width="3.5"/>
<path d="M877.6 2276.7L927 2224.1L976.3 2124.5L1025.6 1984.1L1074.9 1899.5L1124.2 1981.4L1173.6 2085L1222.9 2221.4" fill="none" stroke="#A8040C" stroke-width="8.5" stroke-linejoin="round"/>
<circle cx="877.6" cy="2276.7" r="16.4" fill="#A8040C"/>
<circle cx="927" cy="2224.1" r="16.4" fill="#A8040C"/>
<circle cx="976.3" cy="2124.5" r="16.4" fill="#A8040C"/>
<circle cx="1025.6" cy="1984.1" r="16.4" fill="#A8040C"/>
<circle cx="1074.9" cy="1899.5" r="16.4" fill="#A8040C"/>
<circle cx="1124.2" cy="1981.4" r="16.4" fill="#A8040C"/>
<circle cx="1173.6" cy="2085" r="16.4" fill="#A8040C"/>
<circle cx="1222.9" cy="2221.4" r="16.4" fill="#A8040C"/>
<line x1="877.6" y1="2302.3" x2="877.6" y2="2327.7" stroke="#0505F0" stroke-width="3.2"/>
<line x1="860.6" y1="2327.7" x2="894.6" y2="2327.7" stroke="#0505F0" stroke-width="3.5"/>
<line x1="927" y1="2254.5" x2="927" y2="2279.5" stroke="#0505F0" stroke-width="3.2"/>
<line x1="910" y1="2279.5" x2="944" y2="2279.5" stroke="#0505F0" stroke-width="3.5"/>
<line x1="976.3" y1="2197.3" x2="976.3" y2="2235.5" stroke="#0505F0" stroke-width="3.2"/>
<line x1="959.3" y1="2235.5" x2="993.3" y2="2235.5" stroke="#0505F0" stroke-width="3.5"/>
<line x1="1025.6" y1="2080" x2="1025.6" y2="2123.2" stroke="#0505F0" stroke-width="3.2"/>
<line x1="1008.6" y1="2123.2" x2="1042.6" y2="2123.2" stroke="#0505F0" stroke-width="3.5"/>
<line x1="1074.9" y1="2044.7" x2="1074.9" y2="2103.2" stroke="#0505F0" stroke-width="3.2"/>
<line x1="1057.9" y1="2103.2" x2="1091.9" y2="2103.2" stroke="#0505F0" stroke-width="3.5"/>
<line x1="1124.2" y1="2120.9" x2="1124.2" y2="2170" stroke="#0505F0" stroke-width="3.2"/>
<line x1="1107.2" y1="2170" x2="1141.2" y2="2170" stroke="#0505F0" stroke-width="3.5"/>
<line x1="1173.6" y1="2219.1" x2="1173.6" y2="2257.8" stroke="#0505F0" stroke-width="3.2"/>
<line x1="1156.6" y1="2257.8" x2="1190.6" y2="2257.8" stroke="#0505F0" stroke-width="3.5"/>
<line x1="1222.9" y1="2303.1" x2="1222.9" y2="2336.7" stroke="#0505F0" stroke-width="3.2"/>
<line x1="1205.9" y1="2336.7" x2="1239.9" y2="2336.7" stroke="#0505F0" stroke-width="3.5"/>
<path d="M877.6 2302.3L927 2254.5L976.3 2197.3L1025.6 2080L1074.9 2044.7L1124.2 2120.9L1173.6 2219.1L1222.9 2303.1" fill="none" stroke="#0505F0" stroke-width="9" stroke-linejoin="round"/>
<rect x="861.6" y="2286.3" width="32" height="32" fill="#0505F0"/>
<rect x="911" y="2238.5" width="32" height="32" fill="#0505F0"/>
<rect x="960.3" y="2181.3" width="32" height="32" fill="#0505F0"/>
<rect x="1009.6" y="2064" width="32" height="32" fill="#0505F0"/>
<rect x="1058.9" y="2028.7" width="32" height="32" fill="#0505F0"/>
<rect x="1108.2" y="2104.9" width="32" height="32" fill="#0505F0"/>
<rect x="1157.6" y="2203.1" width="32" height="32" fill="#0505F0"/>
<rect x="1206.9" y="2287.1" width="32" height="32" fill="#0505F0"/>
<line x1="877.6" y1="2327.7" x2="877.6" y2="2359.6" stroke="#000000" stroke-width="3.6"/>
<line x1="860.6" y1="2359.6" x2="894.6" y2="2359.6" stroke="#000000" stroke-width="4"/>
<line x1="927" y1="2279.5" x2="927" y2="2311.4" stroke="#000000" stroke-width="3.6"/>
<line x1="910" y1="2311.4" x2="944" y2="2311.4" stroke="#000000" stroke-width="4"/>
<line x1="976.3" y1="2254.1" x2="976.3" y2="2287.6" stroke="#000000" stroke-width="3.6"/>
<line x1="959.3" y1="2287.6" x2="993.3" y2="2287.6" stroke="#000000" stroke-width="4"/>
<line x1="1025.6" y1="2123.2" x2="1025.6" y2="2213.2" stroke="#000000" stroke-width="3.6"/>
<line x1="1008.6" y1="2213.2" x2="1042.6" y2="2213.2" stroke="#000000" stroke-width="4"/>
<line x1="1074.9" y1="2134.1" x2="1074.9" y2="2241.3" stroke="#000000" stroke-width="3.6"/>
<line x1="1057.9" y1="2241.3" x2="1091.9" y2="2241.3" stroke="#000000" stroke-width="4"/>
<line x1="1124.2" y1="2210.5" x2="1124.2" y2="2271.3" stroke="#000000" stroke-width="3.6"/>
<line x1="1107.2" y1="2271.3" x2="1141.2" y2="2271.3" stroke="#000000" stroke-width="4"/>
<line x1="1173.6" y1="2289.5" x2="1173.6" y2="2384.5" stroke="#000000" stroke-width="3.6"/>
<line x1="1156.6" y1="2384.5" x2="1190.6" y2="2384.5" stroke="#000000" stroke-width="4"/>
<line x1="1222.9" y1="2336.7" x2="1222.9" y2="2369.5" stroke="#000000" stroke-width="3.6"/>
<line x1="1205.9" y1="2369.5" x2="1239.9" y2="2369.5" stroke="#000000" stroke-width="4"/>
<path d="M877.6 2327.7L927 2279.5L976.3 2254.1L1025.6 2123.2L1074.9 2134.1L1124.2 2210.5L1173.6 2289.5L1222.9 2336.7" fill="none" stroke="#000000" stroke-width="10" stroke-linejoin="round"/>
<path d="M877.6 2310.7L895.1 2327.7L877.6 2344.7L860.1 2327.7Z" fill="#000000"/>
<path d="M927 2262.5L944.5 2279.5L927 2296.5L909.5 2279.5Z" fill="#000000"/>
<path d="M976.3 2237.1L993.8 2254.1L976.3 2271.1L958.8 2254.1Z" fill="#000000"/>
<path d="M1025.6 2106.2L1043.1 2123.2L1025.6 2140.2L1008.1 2123.2Z" fill="#000000"/>
<path d="M1074.9 2117.1L1092.4 2134.1L1074.9 2151.1L1057.4 2134.1Z" fill="#000000"/>
<path d="M1124.2 2193.5L1141.8 2210.5L1124.2 2227.5L1106.8 2210.5Z" fill="#000000"/>
<path d="M1173.6 2272.5L1191.1 2289.5L1173.6 2306.5L1156.1 2289.5Z" fill="#000000"/>
<path d="M1222.9 2319.7L1240.4 2336.7L1222.9 2353.7L1205.4 2336.7Z" fill="#000000"/>
<line x1="1370.8" y1="2276.7" x2="1370.8" y2="2261.4" stroke="#9A1020" stroke-width="3.2"/>
<line x1="1353.8" y1="2261.4" x2="1387.8" y2="2261.4" stroke="#9A1020" stroke-width="3.5"/>
<line x1="1420.2" y1="2224.1" x2="1420.2" y2="2186.7" stroke="#9A1020" stroke-width="3.2"/>
<line x1="1403.2" y1="2186.7" x2="1437.2" y2="2186.7" stroke="#9A1020" stroke-width="3.5"/>
<line x1="1469.5" y1="2124.5" x2="1469.5" y2="2055.8" stroke="#9A1020" stroke-width="3.2"/>
<line x1="1452.5" y1="2055.8" x2="1486.5" y2="2055.8" stroke="#9A1020" stroke-width="3.5"/>
<line x1="1518.8" y1="1984.1" x2="1518.8" y2="1944" stroke="#9A1020" stroke-width="3.2"/>
<line x1="1501.8" y1="1944" x2="1535.8" y2="1944" stroke="#9A1020" stroke-width="3.5"/>
<line x1="1568.1" y1="1899.5" x2="1568.1" y2="1813.1" stroke="#9A1020" stroke-width="3.2"/>
<line x1="1551.1" y1="1813.1" x2="1585.1" y2="1813.1" stroke="#9A1020" stroke-width="3.5"/>
<line x1="1617.5" y1="1981.4" x2="1617.5" y2="1864.9" stroke="#9A1020" stroke-width="3.2"/>
<line x1="1600.5" y1="1864.9" x2="1634.5" y2="1864.9" stroke="#9A1020" stroke-width="3.5"/>
<line x1="1666.8" y1="2085" x2="1666.8" y2="2001.3" stroke="#9A1020" stroke-width="3.2"/>
<line x1="1649.8" y1="2001.3" x2="1683.8" y2="2001.3" stroke="#9A1020" stroke-width="3.5"/>
<line x1="1716.1" y1="2221.4" x2="1716.1" y2="2125.4" stroke="#9A1020" stroke-width="3.2"/>
<line x1="1699.1" y1="2125.4" x2="1733.1" y2="2125.4" stroke="#9A1020" stroke-width="3.5"/>
<path d="M1370.8 2276.7L1420.2 2224.1L1469.5 2124.5L1518.8 1984.1L1568.1 1899.5L1617.5 1981.4L1666.8 2085L1716.1 2221.4" fill="none" stroke="#A8040C" stroke-width="8.5" stroke-linejoin="round"/>
<circle cx="1370.8" cy="2276.7" r="16.4" fill="#A8040C"/>
<circle cx="1420.2" cy="2224.1" r="16.4" fill="#A8040C"/>
<circle cx="1469.5" cy="2124.5" r="16.4" fill="#A8040C"/>
<circle cx="1518.8" cy="1984.1" r="16.4" fill="#A8040C"/>
<circle cx="1568.1" cy="1899.5" r="16.4" fill="#A8040C"/>
<circle cx="1617.5" cy="1981.4" r="16.4" fill="#A8040C"/>
<circle cx="1666.8" cy="2085" r="16.4" fill="#A8040C"/>
<circle cx="1716.1" cy="2221.4" r="16.4" fill="#A8040C"/>
<line x1="1370.8" y1="2322" x2="1370.8" y2="2335" stroke="#17916A" stroke-width="3.2"/>
<line x1="1353.8" y1="2335" x2="1387.8" y2="2335" stroke="#17916A" stroke-width="3.5"/>
<line x1="1420.2" y1="2274" x2="1420.2" y2="2289.5" stroke="#17916A" stroke-width="3.2"/>
<line x1="1403.2" y1="2289.5" x2="1437.2" y2="2289.5" stroke="#17916A" stroke-width="3.5"/>
<line x1="1469.5" y1="2241" x2="1469.5" y2="2254" stroke="#17916A" stroke-width="3.2"/>
<line x1="1452.5" y1="2254" x2="1486.5" y2="2254" stroke="#17916A" stroke-width="3.5"/>
<line x1="1518.8" y1="2110" x2="1518.8" y2="2142.7" stroke="#17916A" stroke-width="3.2"/>
<line x1="1501.8" y1="2142.7" x2="1535.8" y2="2142.7" stroke="#17916A" stroke-width="3.5"/>
<line x1="1568.1" y1="2122" x2="1568.1" y2="2184.2" stroke="#17916A" stroke-width="3.2"/>
<line x1="1551.1" y1="2184.2" x2="1585.1" y2="2184.2" stroke="#17916A" stroke-width="3.5"/>
<line x1="1617.5" y1="2193" x2="1617.5" y2="2222.4" stroke="#17916A" stroke-width="3.2"/>
<line x1="1600.5" y1="2222.4" x2="1634.5" y2="2222.4" stroke="#17916A" stroke-width="3.5"/>
<line x1="1666.8" y1="2267" x2="1666.8" y2="2321.4" stroke="#17916A" stroke-width="3.2"/>
<line x1="1649.8" y1="2321.4" x2="1683.8" y2="2321.4" stroke="#17916A" stroke-width="3.5"/>
<line x1="1716.1" y1="2330" x2="1716.1" y2="2358.2" stroke="#17916A" stroke-width="3.2"/>
<line x1="1699.1" y1="2358.2" x2="1733.1" y2="2358.2" stroke="#17916A" stroke-width="3.5"/>
<path d="M1370.8 2322L1420.2 2274L1469.5 2241L1518.8 2110L1568.1 2122L1617.5 2193L1666.8 2267L1716.1 2330" fill="none" stroke="#17916A" stroke-width="9" stroke-linejoin="round"/>
<path d="M1370.8 2307L1387.8 2337L1353.8 2337Z" fill="#17916A"/>
<path d="M1420.2 2259L1437.2 2289L1403.2 2289Z" fill="#17916A"/>
<path d="M1469.5 2226L1486.5 2256L1452.5 2256Z" fill="#17916A"/>
<path d="M1518.8 2095L1535.8 2125L1501.8 2125Z" fill="#17916A"/>
<path d="M1568.1 2107L1585.1 2137L1551.1 2137Z" fill="#17916A"/>
<path d="M1617.5 2178L1634.5 2208L1600.5 2208Z" fill="#17916A"/>
<path d="M1666.8 2252L1683.8 2282L1649.8 2282Z" fill="#17916A"/>
<path d="M1716.1 2315L1733.1 2345L1699.1 2345Z" fill="#17916A"/>
<line x1="1370.8" y1="2327.7" x2="1370.8" y2="2359.6" stroke="#000000" stroke-width="3.6"/>
<line x1="1353.8" y1="2359.6" x2="1387.8" y2="2359.6" stroke="#000000" stroke-width="4"/>
<line x1="1420.2" y1="2279.5" x2="1420.2" y2="2311.4" stroke="#000000" stroke-width="3.6"/>
<line x1="1403.2" y1="2311.4" x2="1437.2" y2="2311.4" stroke="#000000" stroke-width="4"/>
<line x1="1469.5" y1="2254.1" x2="1469.5" y2="2287.6" stroke="#000000" stroke-width="3.6"/>
<line x1="1452.5" y1="2287.6" x2="1486.5" y2="2287.6" stroke="#000000" stroke-width="4"/>
<line x1="1518.8" y1="2123.2" x2="1518.8" y2="2213.2" stroke="#000000" stroke-width="3.6"/>
<line x1="1501.8" y1="2213.2" x2="1535.8" y2="2213.2" stroke="#000000" stroke-width="4"/>
<line x1="1568.1" y1="2134.1" x2="1568.1" y2="2241.3" stroke="#000000" stroke-width="3.6"/>
<line x1="1551.1" y1="2241.3" x2="1585.1" y2="2241.3" stroke="#000000" stroke-width="4"/>
<line x1="1617.5" y1="2210.5" x2="1617.5" y2="2271.3" stroke="#000000" stroke-width="3.6"/>
<line x1="1600.5" y1="2271.3" x2="1634.5" y2="2271.3" stroke="#000000" stroke-width="4"/>
<line x1="1666.8" y1="2289.5" x2="1666.8" y2="2384.5" stroke="#000000" stroke-width="3.6"/>
<line x1="1649.8" y1="2384.5" x2="1683.8" y2="2384.5" stroke="#000000" stroke-width="4"/>
<line x1="1716.1" y1="2336.7" x2="1716.1" y2="2369.5" stroke="#000000" stroke-width="3.6"/>
<line x1="1699.1" y1="2369.5" x2="1733.1" y2="2369.5" stroke="#000000" stroke-width="4"/>
<path d="M1370.8 2327.7L1420.2 2279.5L1469.5 2254.1L1518.8 2123.2L1568.1 2134.1L1617.5 2210.5L1666.8 2289.5L1716.1 2336.7" fill="none" stroke="#000000" stroke-width="10" stroke-linejoin="round"/>
<path d="M1370.8 2310.7L1388.3 2327.7L1370.8 2344.7L1353.3 2327.7Z" fill="#000000"/>
<path d="M1420.2 2262.5L1437.7 2279.5L1420.2 2296.5L1402.7 2279.5Z" fill="#000000"/>
<path d="M1469.5 2237.1L1487 2254.1L1469.5 2271.1L1452 2254.1Z" fill="#000000"/>
<path d="M1518.8 2106.2L1536.3 2123.2L1518.8 2140.2L1501.3 2123.2Z" fill="#000000"/>
<path d="M1568.1 2117.1L1585.6 2134.1L1568.1 2151.1L1550.6 2134.1Z" fill="#000000"/>
<path d="M1617.5 2193.5L1635 2210.5L1617.5 2227.5L1600 2210.5Z" fill="#000000"/>
<path d="M1666.8 2272.5L1684.3 2289.5L1666.8 2306.5L1649.3 2289.5Z" fill="#000000"/>
<path d="M1716.1 2319.7L1733.6 2336.7L1716.1 2353.7L1698.6 2336.7Z" fill="#000000"/>
<text class="st" x="392" y="652.5">*</text>
<text class="st" x="420" y="604.5">**</text>
<text class="st" x="524.5" y="401.5">**</text>
<text class="st" x="556" y="305.5">***</text>
<text class="st" x="612" y="338.5">***</text>
<text class="st" x="661" y="495.5">***</text>
<text class="st" x="700.5" y="562.5">***</text>
<text class="hs" transform="translate(1010 384) scale(0.9 1)">#</text>
<text class="hs" transform="translate(1032 282) scale(0.9 1)">###</text>
<text class="hs" transform="translate(1108.5 326) scale(0.9 1)">#</text>
<text class="hs" transform="translate(1193 545) scale(0.9 1)">##</text>
<text class="dl" x="1392.5" y="591">Δ</text>
<text class="dl" x="1485" y="392">Δ</text>
<text class="dl" x="1511" y="282">Δ Δ</text>
<text class="dl" x="1568.5" y="326">Δ Δ</text>
<text class="dl" x="1619" y="487">Δ Δ</text>
<text class="dl" x="1646" y="544" style="word-spacing:0px">Δ Δ Δ</text>
<text class="st" x="374" y="2252.5">*</text>
<text class="st" x="429" y="2179.5">*</text>
<text class="st" x="442.7" y="2047">***</text>
<text class="st" x="511" y="1931">**</text>
<text class="st" x="557.3" y="1793.2">***</text>
<text class="st" x="602.3" y="1861.5">***</text>
<text class="st" x="658" y="1992.5">***</text>
<text class="st" x="727.7" y="2120.5">*</text>
<text class="hs" transform="translate(1014.5 1929.5) scale(0.9 1)">#</text>
<text class="hs" transform="translate(1059.5 1808) scale(0.9 1)">#</text>
<text class="hs" transform="translate(1112.6 1857.2) scale(0.9 1)">#</text>
<text class="hs" transform="translate(1159 1991) scale(0.9 1)">#</text>
<text class="dl" x="1350.7" y="2253">Δ</text>
<text class="dl" x="1424.4" y="2044">Δ Δ</text>
<text class="dl" x="1473.5" y="1928">Δ Δ</text>
<text class="dl" x="1533.5" y="1791.5">Δ Δ</text>
<text class="dl" x="1578.5" y="1850" style="word-spacing:0px">Δ Δ Δ</text>
<text class="dl" x="1638.5" y="1992">Δ Δ</text>
<text class="dl" x="1701.2" y="2108">Δ</text>
<line x1="83.6" y1="2912" x2="144.2" y2="2912" stroke="#A8040C" stroke-width="8"/>
<circle cx="113.9" cy="2912" r="13.1" fill="#A8040C"/>
<text class="lg" x="179" y="2928.5">LTB-Rg1/PRRSV</text>
<line x1="653.9" y1="2912" x2="713.9" y2="2912" stroke="#0505F0" stroke-width="8"/>
<rect x="671.1" y="2899.2" width="25.6" height="25.6" fill="#0505F0"/>
<text class="lg" x="747.9" y="2928.5">LTB/PRRSV</text>
<line x1="1128.8" y1="2912" x2="1188.5" y2="2912" stroke="#17916A" stroke-width="8"/>
<path d="M1158.7 2900L1172.2 2924L1145.1 2924Z" fill="#17916A"/>
<text class="lg" x="1222.8" y="2928.5">Rg1/PRRSV</text>
<line x1="1608.4" y1="2912" x2="1667.9" y2="2912" stroke="#000000" stroke-width="8"/>
<path d="M1638.2 2898.4L1652.2 2912L1638.2 2925.6L1624.2 2912Z" fill="#000000"/>
<text class="lg" x="1700.4" y="2928.5">PRRSV</text>
<line x1="1982.5" y1="2912" x2="2041" y2="2912" stroke="#848484" stroke-width="8"/>
<path d="M1998.2 2900L2025.3 2900L2011.8 2924Z" fill="#848484"/>
<text class="lg" x="2076.3" y="2928.5">NC</text>
</svg>
</body></html>
